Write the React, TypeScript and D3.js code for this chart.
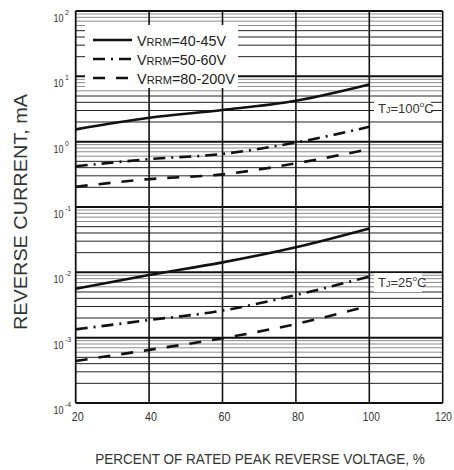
import React from "react";
import * as d3 from "d3";

const xValues = [20, 40, 60, 80, 100];
const hot40 = [1.54, 2.32, 3.05, 4.23, 7.5];
const hot50 = [0.42, 0.54, 0.65, 0.97, 1.69];
const hot80 = [0.204, 0.267, 0.316, 0.466, 0.77];
const cold40 = [0.0056, 0.0091, 0.0142, 0.0242, 0.047];
const cold50 = [0.00134, 0.00186, 0.0026, 0.0045, 0.0086];
const cold80 = [0.00044, 0.00065, 0.00098, 0.00162, 0.0031];

const xTicks = [20, 40, 60, 80, 100, 120];
const yExponents = [-4, -3, -2, -1, 0, 1, 2];
const legendLabels = ["=40-45V", "=50-60V", "=80-200V"];
const dashes = ["none", "12,6,2,6", "12,11"];

const FONT = "'Liberation Sans', Arial, sans-serif";

export default function App() {
  const W = 454, H = 470;
  const x = d3.scaleLinear().domain([20, 120]).range([75.7, 442.7]);
  const y = d3.scaleLog().domain([1e-4, 1e2]).range([403, 11]);

  const line = d3
    .line<[number, number]>()
    .x((d) => x(d[0]))
    .y((d) => y(d[1]))
    .curve(d3.curveMonotoneX);

  const series = [
    { v: hot40, dash: dashes[0] },
    { v: hot50, dash: dashes[1] },
    { v: hot80, dash: dashes[2] },
    { v: cold40, dash: dashes[0] },
    { v: cold50, dash: dashes[1] },
    { v: cold80, dash: dashes[2] },
  ];

  const minors: { v: number; k: number }[] = [];
  for (let e = -4; e < 2; e++) {
    for (let k = 2; k <= 9; k++) minors.push({ v: k * Math.pow(10, e), k });
  }

  const x0 = x(20), x1 = x(120);

  return (
    <svg
      width={W}
      height={H}
      style={{ position: "absolute", left: 0, top: 0, background: "#fff" }}
      fontFamily={FONT}
    >
      <rect x={0} y={0} width={W} height={H} fill="#fff" />
      {minors.map((m, i) => (
        <line
          key={"m" + i}
          x1={x0}
          x2={x1}
          y1={y(m.v)}
          y2={y(m.v)}
          stroke={m.k >= 6 ? "#8a8a8a" : "#222"}
          strokeWidth={1}
        />
      ))}
      {yExponents.map((e) => (
        <line
          key={"d" + e}
          x1={x0}
          x2={x1}
          y1={y(Math.pow(10, e))}
          y2={y(Math.pow(10, e))}
          stroke="#111"
          strokeWidth={2}
        />
      ))}
      {xTicks.map((t) => (
        <line
          key={"v" + t}
          x1={x(t)}
          x2={x(t)}
          y1={y(1e2)}
          y2={y(1e-4)}
          stroke="#111"
          strokeWidth={t === 20 ? 1.8 : 1.6}
        />
      ))}

      <rect x={85} y={25} width={153} height={63} fill="#fff" />
      {legendLabels.map((lab, i) => {
        const ly = 40 + i * 19;
        return (
          <g key={"l" + i}>
            <line
              x1={93}
              x2={132}
              y1={ly}
              y2={ly}
              stroke="#111"
              strokeWidth={2.6}
              strokeDasharray={dashes[i] === "none" ? undefined : dashes[i]}
            />
            <text
              x={137}
              y={ly + 5.5}
              fontSize={15}
              fill="#222"
              textLength={i === 2 ? 98 : 89}
              lengthAdjust="spacingAndGlyphs"
            >
              V<tspan fontSize={11.5}>RRM</tspan>
              {lab}
            </text>
          </g>
        );
      })}

      {series.map((s, i) => (
        <path
          key={"s" + i}
          d={line(xValues.map((xv, j) => [xv, s.v[j]] as [number, number])) || ""}
          fill="none"
          stroke="#111"
          strokeWidth={2.6}
          strokeDasharray={s.dash === "none" ? undefined : s.dash}
        />
      ))}

      <rect x={374} y={99} width={57} height={19} fill="#fff" />
      <text x={378} y={113} fontSize={13} fill="#333">
        T<tspan fontSize={9}>J</tspan>=100<tspan fontSize={8} dy={-6}>o</tspan>
        <tspan dy={6}>C</tspan>
      </text>
      <rect x={374} y={273} width={48} height={19} fill="#fff" />
      <text x={378} y={287} fontSize={13} fill="#333">
        T<tspan fontSize={9}>J</tspan>=25<tspan fontSize={8} dy={-6}>o</tspan>
        <tspan dy={6}>C</tspan>
      </text>

      {xTicks.map((t) => {
        const len = String(t).length === 3 ? 17 : 12;
        return (
          <text
            key={"xt" + t}
            x={Math.min(x(t) + 2, 443.5)}
            y={421}
            fontSize={12}
            fill="#333"
            textAnchor="middle"
            textLength={len}
            lengthAdjust="spacingAndGlyphs"
          >
            {t}
          </text>
        );
      })}
      {yExponents.map((e) => {
        const yy = y(Math.pow(10, e));
        return (
          <g key={"yt" + e}>
            <text
              x={53.5}
              y={yy + 11}
              fontSize={11.5}
              fill="#333"
              textLength={10}
              lengthAdjust="spacingAndGlyphs"
            >
              10
            </text>
            <text x={65} y={yy + 4} fontSize={7} fill="#333">
              {e}
            </text>
          </g>
        );
      })}

      <text
        transform="translate(260,464) scale(0.82,1)"
        fontSize={15.5}
        fill="#333"
        textAnchor="middle"
        textLength={402}
        lengthAdjust="spacingAndGlyphs"
      >
        PERCENT OF RATED PEAK REVERSE VOLTAGE, %
      </text>
      <text
        transform="translate(27,212) rotate(-90)"
        fontSize={18}
        fill="#333"
        textAnchor="middle"
        textLength={236}
        lengthAdjust="spacingAndGlyphs"
      >
        REVERSE CURRENT, mA
      </text>
    </svg>
  );
}
